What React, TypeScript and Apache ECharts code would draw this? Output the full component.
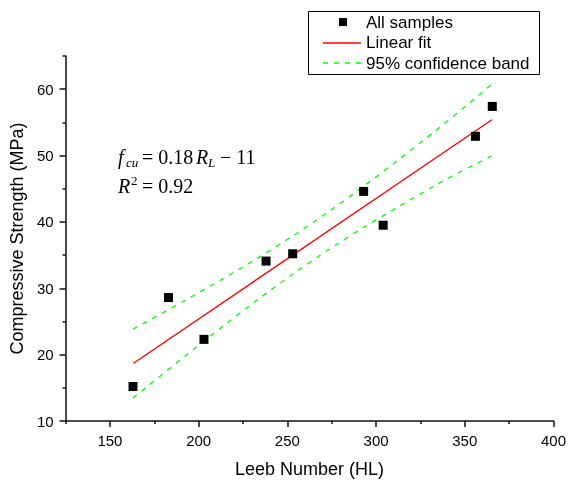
import React, { useEffect, useRef } from 'react';
import * as echarts from 'echarts';

const samplesX = [163, 183, 203, 238, 253, 293, 304, 356, 365.5];
const samplesY = [15.2, 28.6, 22.3, 34.1, 35.2, 44.6, 39.5, 52.9, 57.4];
const fitX = [163.3, 365.3];
const fitY = [18.7, 55.4];
const bandX = [163, 183, 203, 223, 243, 263, 283, 303, 323, 343, 365];
const upperY = [23.85, 26.78, 29.8, 32.9, 36.17, 39.67, 43.41, 47.39, 51.54, 55.79, 60.7];
const lowerY = [13.45, 17.78, 22.04, 26.2, 30.19, 33.97, 37.49, 40.77, 43.9, 46.91, 49.9];
const xMajorTicks = [150, 200, 250, 300, 350, 400];
const xMinorTicks = [125, 175, 225, 275, 325, 375];
const yMajorTicks = [10, 20, 30, 40, 50, 60];
const yMinorTicks = [15, 25, 35, 45, 55, 65];
const legendLabels = ['All samples', 'Linear fit', '95% confidence band'];

const SANS = '"Liberation Sans", Arial, sans-serif';
const SERIF = '"Liberation Serif", "Times New Roman", serif';

export default function App() {
  const ref = useRef<HTMLDivElement>(null);
  useEffect(() => {
    if (!ref.current) return;
    const chart = echarts.init(ref.current, null, { renderer: 'svg' });
    const axisLineStyle = { color: '#111', width: 1.5 };
    const grid = { left: 65, right: 13, top: 56, bottom: 60 };
    const zip = (a: number[], b: number[]) => a.map((v, i) => [v, b[i]]);
    const eqText = (text: string, x: number, y: number, size: number, italic: boolean) => ({
      type: 'text',
      x,
      y,
      style: {
        text,
        fontFamily: SERIF,
        fontSize: size,
        fontStyle: italic ? 'italic' : 'normal',
        fill: '#000',
        align: 'left',
        verticalAlign: 'middle',
      },
    });
    chart.setOption({
      animation: false,
      grid,
      xAxis: [
        {
          type: 'value',
          min: 125,
          max: 400,
          name: 'Leeb Number (HL)',
          nameLocation: 'middle',
          nameGap: 39,
          nameTextStyle: { fontFamily: SANS, fontSize: 18, color: '#000' },
          axisLine: { show: true, lineStyle: axisLineStyle },
          axisTick: { show: true, length: 6, customValues: xMajorTicks, lineStyle: axisLineStyle },
          axisLabel: { customValues: xMajorTicks, fontFamily: SANS, fontSize: 15, color: '#000', margin: 12 },
          splitLine: { show: false },
        },
        {
          type: 'value',
          min: 125,
          max: 400,
          position: 'bottom',
          axisLine: { show: false },
          axisTick: { show: true, length: 3, customValues: xMinorTicks, lineStyle: axisLineStyle },
          axisLabel: { show: false },
          splitLine: { show: false },
        },
      ],
      yAxis: [
        {
          type: 'value',
          min: 10,
          max: 65,
          name: 'Compressive Strength (MPa)',
          nameLocation: 'middle',
          nameGap: 39,
          nameTextStyle: { fontFamily: SANS, fontSize: 18, color: '#000' },
          axisLine: { show: true, lineStyle: axisLineStyle },
          axisTick: { show: true, length: 6, customValues: yMajorTicks, lineStyle: axisLineStyle },
          axisLabel: { customValues: yMajorTicks, fontFamily: SANS, fontSize: 15, color: '#000', margin: 12 },
          splitLine: { show: false },
        },
        {
          type: 'value',
          min: 10,
          max: 65,
          position: 'left',
          axisLine: { show: false },
          axisTick: { show: true, length: 3, customValues: yMinorTicks, lineStyle: axisLineStyle },
          axisLabel: { show: false },
          splitLine: { show: false },
        },
      ],
      series: [
        {
          name: legendLabels[2],
          type: 'line',
          data: zip(bandX, upperY),
          symbol: 'none',
          smooth: true,
          lineStyle: { color: '#00ff00', width: 1.3, type: [5, 6] },
        },
        {
          name: legendLabels[2] + ' lower',
          type: 'line',
          data: zip(bandX, lowerY),
          symbol: 'none',
          smooth: true,
          lineStyle: { color: '#00ff00', width: 1.3, type: [5, 6] },
        },
        {
          name: legendLabels[1],
          type: 'line',
          data: zip(fitX, fitY),
          symbol: 'none',
          lineStyle: { color: '#ff0000', width: 1.4 },
        },
        {
          name: legendLabels[0],
          type: 'scatter',
          data: zip(samplesX, samplesY),
          symbol: 'rect',
          symbolSize: 9,
          itemStyle: { color: '#000', opacity: 1 },
          z: 5,
        },
      ],
      graphic: [
        {
          type: 'rect',
          shape: { x: 308.5, y: 11.5, width: 231, height: 63 },
          style: { fill: '#fff', stroke: '#000', lineWidth: 1 },
        },
        {
          type: 'rect',
          shape: { x: 339, y: 18, width: 8, height: 8 },
          style: { fill: '#000' },
        },
        {
          type: 'line',
          shape: { x1: 323, y1: 43, x2: 361, y2: 43 },
          style: { stroke: '#ff0000', lineWidth: 1.4 },
        },
        {
          type: 'line',
          shape: { x1: 323, y1: 63, x2: 361, y2: 63 },
          style: { stroke: '#00ff00', lineWidth: 1.3, lineDash: [5, 6] },
        },
        ...legendLabels.map((t, i) => ({
          type: 'text',
          x: 366,
          y: 22 + i * 20.5,
          style: { text: t, fontFamily: SANS, fontSize: 17, fill: '#000', align: 'left', verticalAlign: 'middle' },
        })),
        eqText('f', 118, 157, 20, true),
        eqText('cu', 126, 162, 13, true),
        eqText('= 0.18', 142, 157, 20, false),
        eqText('R', 196, 157, 20, true),
        eqText('L', 208, 162, 13, true),
        eqText('\u2212 11', 220, 157, 20, false),
        eqText('R', 118, 186, 20, true),
        eqText('2', 131, 180, 13, false),
        eqText('= 0.92', 142, 186, 20, false),
      ],
    });
    return () => chart.dispose();
  }, []);
  return <div ref={ref} style={{ position: 'fixed', left: 0, top: 0, width: 569, height: 483 }} />;
}
